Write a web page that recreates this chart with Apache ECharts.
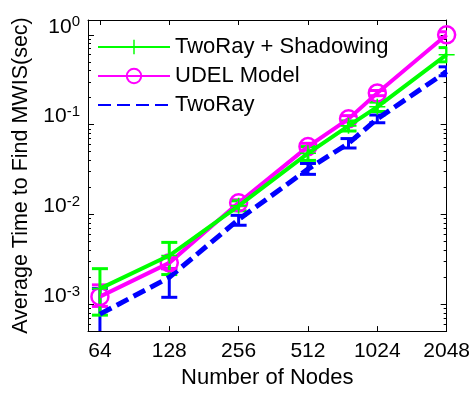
<!DOCTYPE html>
<html>
<head>
<meta charset="utf-8">
<script src="https://cdn.jsdelivr.net/npm/echarts@6/dist/echarts.min.js"></script>
<style>
  html, body { margin: 0; padding: 0; background: #fff; }
  #chart { width: 473px; height: 394px; }
</style>
</head>
<body>
<div id="chart"></div>
<script>
// number of nodes (x) and average time in seconds (y)
const nodes = [64, 128, 256, 512, 768, 1024, 2048];
const xTickLabels = [64, 128, 256, 512, 1024, 2048];
const yTickValues = [0.001, 0.01, 0.1, 1];

const shadowMean = [0.0015, 0.0035, 0.0125, 0.048, 0.097, 0.158, 0.60];
const shadowLow  = [0.00076, 0.00215, 0.0110, 0.040, 0.085, 0.140, 0.50];
const shadowHigh = [0.0025, 0.0049, 0.0142, 0.057, 0.110, 0.178, 0.72];

const udelMean = [0.00122, 0.0029, 0.0135, 0.057, 0.116, 0.225, 1.0];
const udelLow  = [0.00095, 0.0025, 0.0125, 0.052, 0.107, 0.210, 0.93];
const udelHigh = [0.00165, 0.0033, 0.0146, 0.062, 0.126, 0.240, 1.08];

const twoRayMean = [0.00078, 0.0020, 0.0088, 0.032, 0.062, 0.116, 0.39];
const twoRayLow  = [0.0003, 0.0012, 0.0076, 0.028, 0.055, 0.105, 0.35];
const twoRayHigh = [0.0015, 0.0025, 0.0098, 0.037, 0.070, 0.128, 0.44];

const GREEN = "#00ff00";
const MAGENTA = "#ff00ff";
const BLUE = "#0000ff";
const FONT = "Liberation Sans, Arial, Helvetica, sans-serif";

const xMin = 56.8, xMax = 2048;
const yMin = 5.05e-4, yMax = 1.46;

// minor ticks 2..9 x 10^n
const yMinorTicks = [];
for (let e = -4; e <= 0; e++) {
    for (let k = 2; k <= 9; k++) {
        const v = k * Math.pow(10, e);
        if (v > yMin && v < yMax) yMinorTicks.push(v);
    }
}

const cross = "path://M-1,-10 L1,-10 L1,-1 L10,-1 L10,1 L1,1 L1,10 L-1,10 L-1,1 L-10,1 L-10,-1 L-1,-1 Z";

function errorData(low, high) {
    return nodes.map((n, i) => [n, low[i], high[i]]);
}

function errorSeries(name, color, low, high) {
    return {
        name: name,
        type: "custom",
        data: errorData(low, high),
        encode: { x: 0, y: [1, 2] },
        z: 3,
        silent: true,
        renderItem: (params, api) => {
            const x = api.value(0);
            const lo = api.coord([x, api.value(1)]);
            const hi = api.coord([x, api.value(2)]);
            const half = 8;
            const style = { stroke: color, lineWidth: 3, fill: null };
            return {
                type: "group",
                children: [
                    { type: "line", shape: { x1: lo[0], y1: lo[1], x2: hi[0], y2: hi[1] }, style },
                    { type: "line", shape: { x1: lo[0] - half, y1: lo[1], x2: lo[0] + half, y2: lo[1] }, style },
                    { type: "line", shape: { x1: hi[0] - half, y1: hi[1], x2: hi[0] + half, y2: hi[1] }, style },
                ],
            };
        },
        clip: true,
    };
}

function pairs(values) {
    return nodes.map((n, i) => [n, values[i]]);
}

const chart = echarts.init(document.getElementById("chart"), null, { renderer: "canvas" });

const boxLine = { show: true, onZero: false, lineStyle: { color: "#000", width: 1 } };

chart.setOption({
    animation: false,
    textStyle: { fontFamily: FONT },
    grid: { left: 88, right: 26, top: 20, bottom: 59 },
    legend: {
        left: 92,
        top: 31,
        orient: "vertical",
        itemWidth: 72,
        itemHeight: 18,
        itemGap: 7,
        data: [
            "TwoRay + Shadowing",
            "UDEL Model",
            { name: "TwoRay", itemStyle: { opacity: 0 } },
        ],
        textStyle: { fontSize: 22, color: "#000", fontFamily: FONT },
    },
    xAxis: [
        {
            type: "log",
            logBase: 2,
            min: xMin,
            max: xMax,
            name: "Number of Nodes",
            nameLocation: "middle",
            nameGap: 35,
            nameTextStyle: { fontSize: 22, color: "#000", fontFamily: FONT },
            axisLine: boxLine,
            axisTick: { show: true, inside: true, length: 5, customValues: xTickLabels, lineStyle: { color: "#000" } },
            axisLabel: {
                customValues: xTickLabels,
                fontSize: 21,
                color: "#000",
                margin: 10,
                fontFamily: FONT,
                formatter: (v) => String(Math.round(v)),
            },
            splitLine: { show: false },
        },
        {
            type: "log",
            logBase: 2,
            min: xMin,
            max: xMax,
            position: "top",
            axisLine: boxLine,
            axisTick: { show: true, inside: true, length: 5, customValues: xTickLabels, lineStyle: { color: "#000" } },
            axisLabel: { show: false },
            splitLine: { show: false },
        },
    ],
    yAxis: [
        {
            type: "log",
            min: yMin,
            max: yMax,
            name: "Average Time to Find MWIS(sec)",
            nameLocation: "middle",
            nameGap: 56,
            nameTextStyle: { fontSize: 21.5, color: "#000", fontFamily: FONT },
            axisLine: boxLine,
            axisTick: { show: true, inside: true, length: 6, customValues: yTickValues, lineStyle: { color: "#000" } },
            axisLabel: {
                customValues: yTickValues,
                margin: 8,
                color: "#000",
                formatter: (v) => "{b|10}{s|" + Math.round(Math.log10(v)) + "}",
                rich: {
                    b: { fontSize: 21, fontFamily: FONT, color: "#000", verticalAlign: "bottom", lineHeight: 21, padding: [0, 0, 8, 0] },
                    s: { fontSize: 15, fontFamily: FONT, color: "#000", verticalAlign: "bottom", lineHeight: 15, padding: [0, 0, 16, 0] },
                },
            },
            splitLine: { show: false },
        },
        {
            type: "log",
            min: yMin,
            max: yMax,
            position: "left",
            axisLine: { show: false },
            axisTick: { show: true, inside: true, length: 3, customValues: yMinorTicks, lineStyle: { color: "#000" } },
            axisLabel: { show: false },
            splitLine: { show: false },
        },
        {
            type: "log",
            min: yMin,
            max: yMax,
            position: "right",
            axisLine: boxLine,
            axisTick: { show: true, inside: true, length: 6, customValues: yTickValues, lineStyle: { color: "#000" } },
            axisLabel: { show: false },
            splitLine: { show: false },
        },
        {
            type: "log",
            min: yMin,
            max: yMax,
            position: "right",
            axisLine: { show: false },
            axisTick: { show: true, inside: true, length: 3, customValues: yMinorTicks, lineStyle: { color: "#000" } },
            axisLabel: { show: false },
            splitLine: { show: false },
        },
    ],
    series: [
        errorSeries("TwoRay err", BLUE, twoRayLow, twoRayHigh),
        errorSeries("UDEL err", MAGENTA, udelLow, udelHigh),
        errorSeries("Shadow err", GREEN, shadowLow, shadowHigh),
        {
            name: "TwoRay",
            type: "line",
            data: pairs(twoRayMean),
            z: 4,
            symbol: "none",
            lineStyle: { color: BLUE, width: 5, type: [13, 6] },
            itemStyle: { color: BLUE },
        },
        {
            name: "UDEL Model",
            type: "line",
            data: pairs(udelMean),
            z: 5,
            symbol: "circle",
            symbolSize: 17,
            showAllSymbol: true,
            lineStyle: { color: MAGENTA, width: 4 },
            itemStyle: { color: "rgba(0,0,0,0)", borderColor: MAGENTA, borderWidth: 2.5 },
        },
        {
            name: "TwoRay + Shadowing",
            type: "line",
            data: pairs(shadowMean),
            z: 6,
            symbol: cross,
            symbolSize: 16,
            lineStyle: { color: GREEN, width: 4 },
            itemStyle: { color: GREEN },
        },
    ],
});
</script>
</body>
</html>
